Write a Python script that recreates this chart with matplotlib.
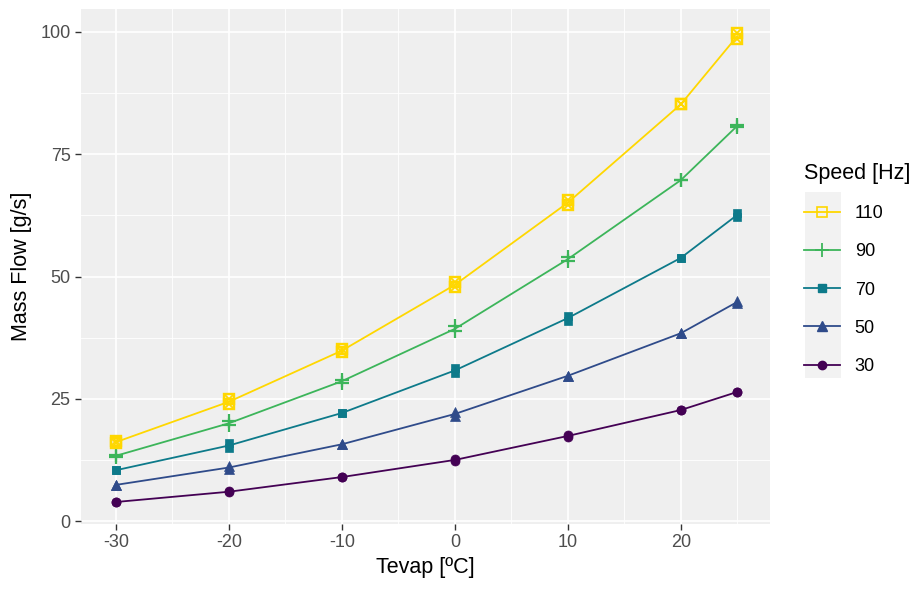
import matplotlib
matplotlib.use("Agg")
import matplotlib.pyplot as plt
from matplotlib.lines import Line2D
from matplotlib.patches import Rectangle
import numpy as np

plt.rcParams['font.family'] = ['Liberation Sans', 'DejaVu Sans']
plt.rcParams['axes.unicode_minus'] = False

tevap = [-30, -20, -10, 0, 10, 20, 25]
speeds = ["30", "50", "70", "90", "110"]

# two replicate readings per point
flow_30_a = [3.9, 5.9, 9.0, 12.3, 17.2, 22.7, 26.4]
flow_30_b = [3.9, 6.1, 9.0, 12.7, 17.6, 22.7, 26.4]
flow_50_a = [7.4, 10.6, 15.7, 21.5, 29.7, 38.4, 44.6]
flow_50_b = [7.4, 11.3, 15.7, 22.3, 29.7, 38.4, 45.0]
flow_70_a = [10.4, 15.0, 22.1, 30.3, 41.0, 53.8, 62.2]
flow_70_b = [10.4, 15.9, 22.1, 31.3, 42.0, 53.8, 63.0]
flow_90_a = [13.1, 19.6, 28.3, 38.8, 53.2, 69.7, 80.6]
flow_90_b = [13.6, 20.4, 28.9, 39.8, 53.9, 69.7, 81.0]
flow_110_a = [15.9, 23.9, 34.5, 47.8, 64.6, 85.2, 98.5]
flow_110_b = [16.4, 24.9, 35.2, 48.8, 65.6, 85.2, 99.8]

series = {
    "30": (flow_30_a, flow_30_b),
    "50": (flow_50_a, flow_50_b),
    "70": (flow_70_a, flow_70_b),
    "90": (flow_90_a, flow_90_b),
    "110": (flow_110_a, flow_110_b),
}
colors = {"30": "#440154", "50": "#2F4B8A", "70": "#0D7A8A", "90": "#3CB55A", "110": "#FFD700"}
markers = {"30": "o", "50": "^", "70": "s", "90": "+", "110": "s"}
msizes = {"30": 6.5, "50": 7.5, "70": 6.2, "90": 10, "110": 7}

fig = plt.figure(figsize=(9.21, 5.92), dpi=100)
ax = fig.add_axes([81/921, 1-524/592, (770-81)/921, (524-9)/592])
ax.set_facecolor("#EFEFEF")
for s in ax.spines.values():
    s.set_visible(False)

def draw_marker(ax, x, y, sp, ms, zorder=3):
    c = colors[sp]
    if sp == "110":
        ax.plot(x, y, ls="none", marker="s", ms=ms, mfc="none", mec=c, mew=1.7, zorder=zorder)
        ax.plot(x, y, ls="none", marker="x", ms=ms*0.75, mec=c, mew=1.3, zorder=zorder)
    elif sp == "90":
        ax.plot(x, y, ls="none", marker="+", ms=ms, mec=c, mew=1.6, zorder=zorder)
    else:
        ax.plot(x, y, ls="none", marker=markers[sp], ms=ms, mfc=c, mec=c, mew=0.5, zorder=zorder)

for sp in speeds:
    a, b = series[sp]
    mean = (np.array(a) + np.array(b)) / 2
    ax.plot(tevap, mean, color=colors[sp], lw=1.3, zorder=2)
    draw_marker(ax, tevap, a, sp, msizes[sp])
    draw_marker(ax, tevap, b, sp, msizes[sp])

ax.set_xlim(-33.1, 27.9)
ax.set_ylim(-0.6, 104.7)
ax.set_xticks([-30, -20, -10, 0, 10, 20])
ax.set_yticks([0, 25, 50, 75, 100])
ax.set_xticks([-25, -15, -5, 5, 15, 25], minor=True)
ax.set_yticks([12.5, 37.5, 62.5, 87.5], minor=True)
ax.grid(which="major", color="white", lw=1.2, zorder=0)
ax.grid(which="minor", color="white", lw=0.6, zorder=0)
ax.set_axisbelow(True)
ax.tick_params(which="major", length=4.5, width=1, color="#333333", labelcolor="#4D4D4D", labelsize=13, pad=3)
ax.tick_params(which="minor", length=0)
ax.set_xlabel("Tevap [ºC]", fontsize=15.5, labelpad=4)
ax.set_ylabel("Mass Flow [g/s]", fontsize=15.5, labelpad=6)

handles = []
labels = []
for sp in reversed(speeds):
    c = colors[sp]
    if sp == "110":
        h = Line2D([], [], color=c, lw=1.3, marker="s", ms=6.5, mfc="none", mec=c, mew=1.2)
    elif sp == "90":
        h = Line2D([], [], color=c, lw=1.3, marker="+", ms=10, mec=c, mew=1.3)
    else:
        h = Line2D([], [], color=c, lw=1.3, marker=markers[sp], ms=6 if sp != "50" else 7, mfc=c, mec=c)
    handles.append(h)
    labels.append(sp)

fig.patches.append(Rectangle((805/921, 1-378/592), 36/921, 186/592, transform=fig.transFigure,
                             facecolor="#F2F2F2", edgecolor="none", zorder=0))
leg = fig.legend(handles, labels, loc="upper left", bbox_to_anchor=(797/921, 1-156/592),
                 frameon=False, title="Speed [Hz]", fontsize=13, title_fontsize=15.5,
                 handlelength=2.0, handletextpad=0.8, labelspacing=1.17, borderaxespad=0)
leg._legend_box.align = "left"

fig.savefig("out.png", dpi=100)
